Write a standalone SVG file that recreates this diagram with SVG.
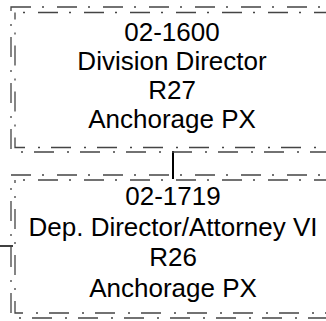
<svg xmlns="http://www.w3.org/2000/svg" width="326" height="321" viewBox="0 0 326 321">
<style>
.b1{fill:none;stroke:#444;stroke-width:1.3;stroke-dasharray:20 11 2 13}
.b2{fill:none;stroke:#444;stroke-width:1.3;stroke-dasharray:20 11 2 13;stroke-dashoffset:23}
.t{font-family:"Liberation Sans",Arial,sans-serif;font-size:26px;fill:#000;text-anchor:middle}
.c{stroke:#000;fill:none}
</style>
<rect width="326" height="321" fill="#fff"/>
<g id="connectors">
<line class="c" x1="173" y1="151" x2="173" y2="179" stroke-width="2"/>
<line class="c" x1="0" y1="246" x2="13" y2="246" stroke-width="1.5"/>
</g>
<g id="node1">
<rect class="b1" x="11" y="7" width="340" height="145"/>
<rect class="b2" x="15" y="12.5" width="340" height="135"/>
<text class="t" x="172" y="41">02-1600</text>
<text class="t" x="172" y="70">Division Director</text>
<text class="t" x="172" y="99">R27</text>
<text class="t" x="172" y="128">Anchorage PX</text>
</g>
<g id="node2">
<rect class="b1" x="11" y="175" width="340" height="143"/>
<rect class="b2" x="15" y="180" width="340" height="133"/>
<text class="t" x="173" y="205">02-1719</text>
<text class="t" x="173" y="236">Dep. Director/Attorney VI</text>
<text class="t" x="173" y="266">R26</text>
<text class="t" x="173" y="297">Anchorage PX</text>
</g>
</svg>
